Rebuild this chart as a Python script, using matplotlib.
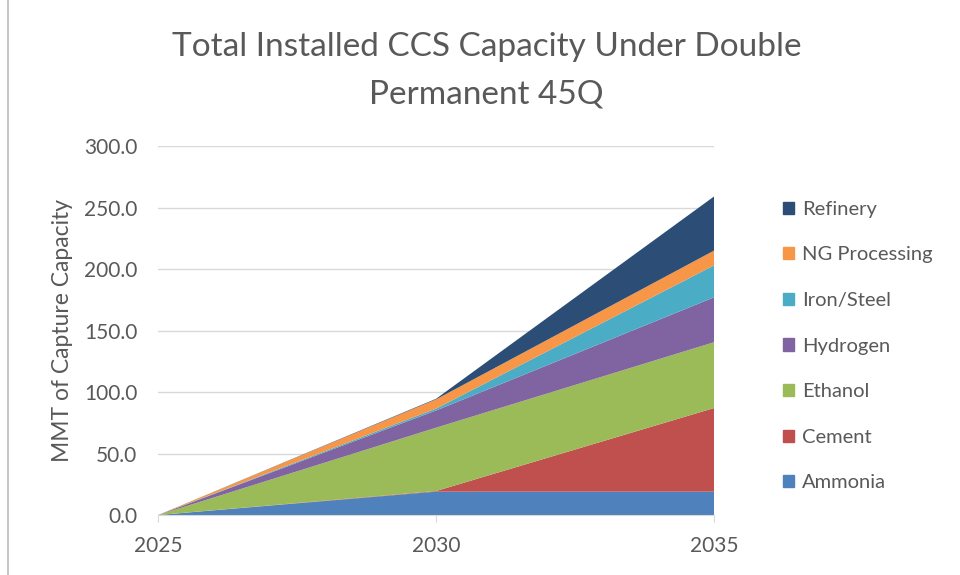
import numpy as np
import matplotlib.pyplot as plt
from matplotlib.patches import Rectangle
from matplotlib.lines import Line2D

plt.rcParams['font.family'] = ['Lato', 'DejaVu Sans']

# ---- data (MMT of capture capacity) ----
years = [2025, 2030, 2035]
sectors = ['Ammonia', 'Cement', 'Ethanol', 'Hydrogen', 'Iron/Steel',
           'NG Processing', 'Refinery']
ammonia = [0.0, 19.0, 19.0]
cement = [0.0, 0.5, 68.0]
ethanol = [0.0, 51.5, 53.5]
hydrogen = [0.0, 14.0, 36.5]
iron_steel = [0.0, 1.5, 26.0]
ng_processing = [0.0, 7.5, 12.0]
refinery = [0.0, 0.5, 44.0]

colors = ['#4F81BD', '#C0504D', '#9BBB59', '#8064A2', '#4BACC6',
          '#F79646', '#2C4D75']
TXT = '#595959'

fig = plt.figure(figsize=(9.6, 5.75), dpi=100)
ax = fig.add_axes([0.1646, 0.1043, 0.5792, 0.6417])

series = [ammonia, cement, ethanol, hydrogen, iron_steel, ng_processing, refinery]
ax.stackplot(years, *series, colors=colors, labels=sectors, linewidth=0)

ax.set_xlim(2025, 2035)
ax.set_ylim(0, 300)
ax.set_yticks(np.arange(0, 301, 50))
ax.set_yticklabels([f'{v:.1f}' for v in np.arange(0, 301, 50)])
ax.set_xticks(years)
ax.grid(True, axis='y', color='#D9D9D9', linewidth=1)
ax.set_axisbelow(True)
for s in ['top', 'right', 'left']:
    ax.spines[s].set_visible(False)
ax.spines['bottom'].set_color('#D9D9D9')
ax.tick_params(axis='y', length=0, pad=15, labelsize=15, colors=TXT)
ax.tick_params(axis='x', length=5, color='#D9D9D9', pad=10, labelsize=15,
               colors=TXT)
ax.set_ylabel('MMT of Capture Capacity', fontsize=16.5, color=TXT, labelpad=8)

fig.suptitle('Total Installed CCS Capacity Under Double\nPermanent 45Q',
             x=0.507, y=0.945, fontsize=24, color=TXT, linespacing=1.75)

# legend, reversed order, right side
handles = [Rectangle((0, 0), 1, 1, color=c) for c in colors]
leg = fig.legend(handles[::-1], sectors[::-1], loc='center left',
                 bbox_to_anchor=(0.797, 0.398), frameon=False,
                 fontsize=14.5, labelcolor=TXT, handlelength=0.55,
                 handleheight=0.55, handletextpad=0.4, labelspacing=1.42)

# chart border on the left
fig.add_artist(Line2D([0.008, 0.008], [0.0, 1.0], color='#C8C8C8',
                      linewidth=1.5, transform=fig.transFigure))

fig.savefig('out.png', dpi=100)
